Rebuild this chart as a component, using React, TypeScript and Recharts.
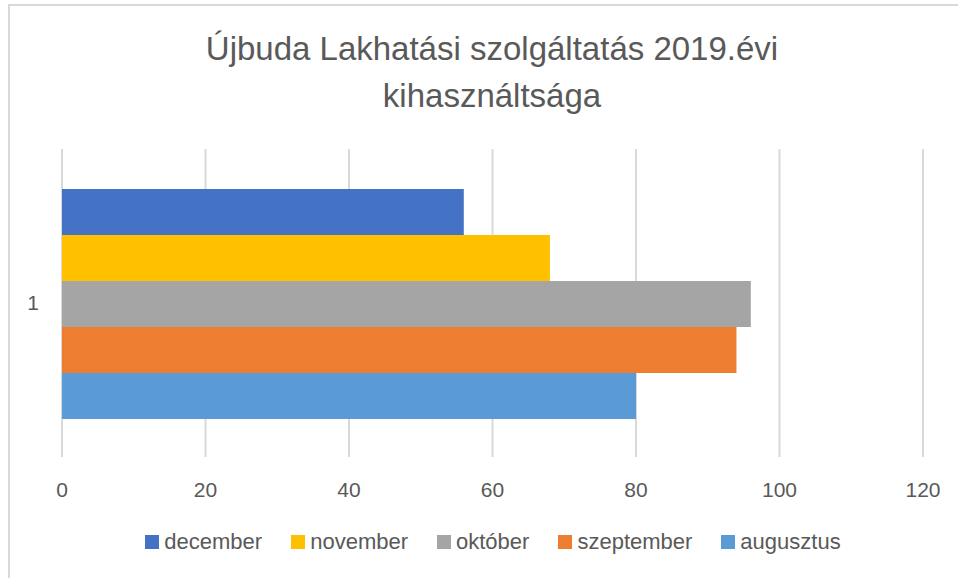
import { Bar, BarChart, CartesianGrid, Legend, XAxis, YAxis } from "recharts";

const categories = ["1"];
const seriesNames = ["december", "november", "október", "szeptember", "augusztus"];
const december = [56];
const november = [68];
const oktober = [96];
const szeptember = [94];
const augusztus = [80];
const xTicks = [0, 20, 40, 60, 80, 100, 120];

const SERIES_COLOR: Record<string, string> = {
  december: "#4472C4",
  november: "#FFC000",
  október: "#A5A5A5",
  szeptember: "#ED7D31",
  augusztus: "#5B9BD5",
};

const seriesValues: Record<string, number[]> = {
  december,
  november,
  október: oktober,
  szeptember,
  augusztus,
};

const data = categories.map((name, i) => {
  const row: Record<string, string | number> = { name };
  for (const s of seriesNames) row[s] = seriesValues[s][i];
  return row;
});

const FONT = "'Liberation Sans', Arial, sans-serif";
const TEXT = "#595959";

function renderLegend(props: any) {
  // keep the series order, recharts sorts legend items by name otherwise
  const items = [...(props.payload ?? [])].sort(
    (a: any, b: any) => seriesNames.indexOf(a.value) - seriesNames.indexOf(b.value)
  );
  return (
    <div style={{ display: "flex", justifyContent: "center", fontFamily: FONT, fontSize: 22, color: TEXT }}>
      {items.map((it: any, i: number) => (
        <div key={it.value} style={{ display: "flex", alignItems: "center", marginLeft: i === 0 ? 0 : 29 }}>
          <span style={{ width: 14, height: 14, background: it.color, marginRight: 5, display: "inline-block" }} />
          <span>{it.value}</span>
        </div>
      ))}
    </div>
  );
}

export default function App() {
  return (
    <div style={{ position: "absolute", left: 0, top: 0, width: 958, height: 578, background: "#fff", overflow: "hidden" }}>
      <div
        style={{
          position: "absolute",
          left: 8,
          top: 4,
          width: 1000,
          height: 1000,
          borderTop: "2px solid #d9d9d9",
          borderLeft: "2px solid #d9d9d9",
        }}
      />
      <div
        style={{
          position: "absolute",
          left: 13,
          top: 25,
          width: 958,
          textAlign: "center",
          fontFamily: FONT,
          fontSize: 33,
          lineHeight: "47px",
          color: TEXT,
        }}
      >
        Újbuda Lakhatási szolgáltatás 2019.évi
        <br />
        kihasználtsága
      </div>
      <div style={{ position: "absolute", left: 0, top: 0 }}>
        <BarChart
          width={958}
          height={578}
          data={data}
          layout="vertical"
          margin={{ top: 149, right: 35, bottom: 91, left: 0 }}
          barCategoryGap="13%"
          barGap={0}
        >
          <CartesianGrid horizontal={false} stroke="#d9d9d9" strokeWidth={2} />
          <XAxis
            type="number"
            domain={[0, 120]}
            ticks={xTicks}
            axisLine={false}
            tickLine={false}
            tickSize={0}
            tickMargin={25}
            height={30}
            tick={{ fill: TEXT, fontSize: 21, fontFamily: FONT }}
            interval={0}
          />
          <YAxis
            type="category"
            dataKey="name"
            width={62}
            axisLine={false}
            tickLine={false}
            tickSize={0}
            tickMargin={23}
            tick={{ fill: TEXT, fontSize: 21, fontFamily: FONT }}
          />
          <Legend
            verticalAlign="middle"
            align="center"
            layout="horizontal"
            content={renderLegend}
            wrapperStyle={{ top: 529, left: 14, width: 958 }}
          />
          {seriesNames.map((s) => (
            <Bar key={s} dataKey={s} name={s} fill={SERIES_COLOR[s]} isAnimationActive={false} />
          ))}
        </BarChart>
      </div>
    </div>
  );
}
